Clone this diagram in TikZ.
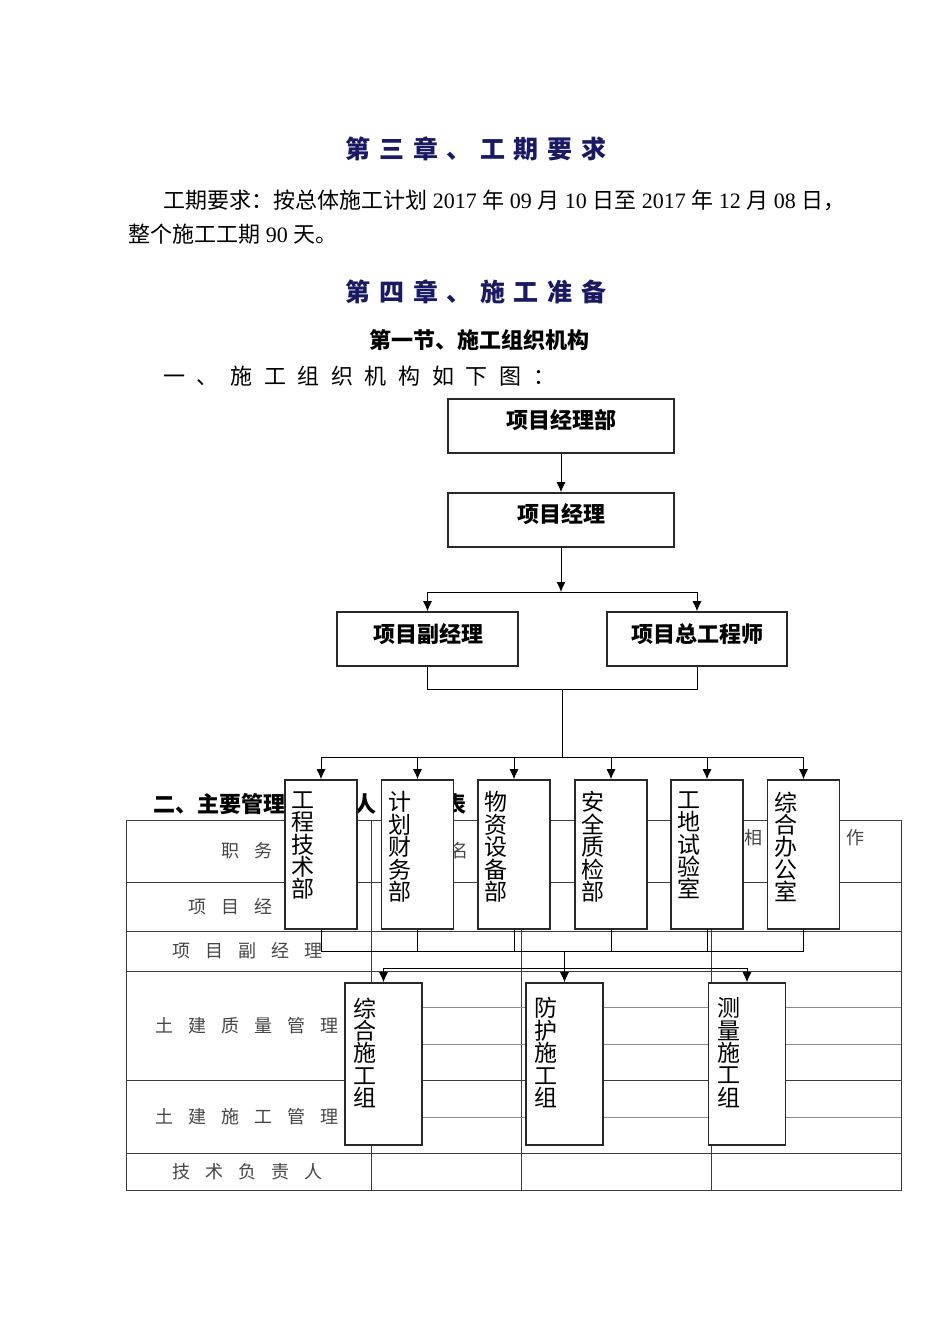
\documentclass[tikz,border=0pt]{standalone}
\usepackage{fontspec}
\setmainfont{Liberation Serif}
\newfontfamily\cjk{Noto Sans CJK SC}
\usetikzlibrary{arrows.meta}

\definecolor{titleblue}{RGB}{25,25,100}
\definecolor{gridgray}{RGB}{60,60,60}
\definecolor{subgray}{RGB}{140,140,140}
\definecolor{cellgray}{RGB}{70,70,70}
\definecolor{boxgray}{RGB}{40,40,40}

\newcommand\zh[1]{{\cjk #1}}
\newcommand\tgap{\hspace{4.3pt}}
\newcommand\lgap{\hspace{5.8pt}}
\newcommand\cgap{\hspace{7.5pt}}

\tikzset{
  box/.style={draw=boxgray, line width=0.8pt, fill=white, inner sep=0pt},
  hbox/.style={box, minimum width=#1, minimum height=27pt},
  vbox/.style={box, minimum width=36pt, minimum height=74.5pt},
  gbox/.style={box, minimum width=38.5pt, minimum height=81pt},
  arr/.style={-{Latex[length=5pt,width=4.5pt]}, line width=0.5pt},
  boxtext/.style={font=\cjk\bfseries\fontsize{11pt}{13pt}\selectfont, inner sep=0pt},
  vtext/.style={font=\cjk\fontsize{11.5pt}{11.2pt}\selectfont, align=left, inner sep=0pt, anchor=north west},
  cell/.style={font=\cjk\fontsize{9pt}{11pt}\selectfont, text=cellgray, inner sep=0pt},
  grid/.style={draw=gridgray, line width=0.5pt},
  subgrid/.style={draw=subgray, line width=0.5pt}
}

\begin{document}
\begin{tikzpicture}[x=0.5pt, y=-0.5pt]
        \fill[white] (0,0) rectangle (950,1344);
        \useasboundingbox (0,0) rectangle (950,1344);

        % headings and text
        \node[font=\cjk\bfseries\fontsize{12.5pt}{14pt}\selectfont, text=titleblue] (ch3) at (476,149)
            {第\tgap 三\tgap 章\tgap 、\tgap 工\tgap 期\tgap 要\tgap 求};
        \node[anchor=west, font=\fontsize{11pt}{13pt}\selectfont, inner sep=0pt] (par1) at (163,200)
            {\zh{工期要求：按总体施工计划} 2017 \zh{年} 09 \zh{月} 10 \zh{日至} 2017 \zh{年} 12 \zh{月} 08 \zh{日，}};
        \node[anchor=west, font=\fontsize{11pt}{13pt}\selectfont, inner sep=0pt] (par2) at (128,234)
            {\zh{整个施工工期} 90 \zh{天。}};
        \node[font=\cjk\bfseries\fontsize{12.5pt}{14pt}\selectfont, text=titleblue] (ch4) at (476,292)
            {第\tgap 四\tgap 章\tgap 、\tgap 施\tgap 工\tgap 准\tgap 备};
        \node[font=\cjk\bfseries\fontsize{11pt}{13pt}\selectfont] (sec1) at (479,340) {第一节、施工组织机构};
        \node[anchor=west, font=\cjk\fontsize{11pt}{13pt}\selectfont, inner sep=0pt] (part1) at (163,376)
            {一\lgap 、\lgap 施\lgap 工\lgap 组\lgap 织\lgap 机\lgap 构\lgap 如\lgap 下\lgap 图\lgap ：};

        % table
        \node[anchor=west, font=\cjk\bfseries\fontsize{11pt}{13pt}\selectfont, inner sep=0pt] (part2) at (153,804) {二、主要管理};
        \node[font=\cjk\bfseries\fontsize{11pt}{13pt}\selectfont, inner sep=0pt] (part2b) at (365,804) {人};
        \node[font=\cjk\bfseries\fontsize{11pt}{13pt}\selectfont, inner sep=0pt] (part2c) at (455,804) {表};

        \draw[grid] (126,820) rectangle (901,1190);
        \draw[grid] (126,882) -- (901,882);
        \draw[grid] (126,931) -- (901,931);
        \draw[grid] (126,971) -- (901,971);
        \draw[grid] (126,1080) -- (901,1080);
        \draw[grid] (126,1153) -- (901,1153);
        \draw[grid] (371,820) -- (371,1190);
        \draw[grid] (521,820) -- (521,1190);
        \draw[grid] (711,820) -- (711,1190);
        \draw[subgrid] (371,1007) -- (901,1007);
        \draw[subgrid] (371,1044) -- (901,1044);
        \draw[subgrid] (371,1117) -- (901,1117);

        \node[cell] (post) at (247,851) {职\cgap 务};
        \node[cell] (name) at (459,851) {名};
        \node[cell] (rel1) at (753,838) {相};
        \node[cell] (rel2) at (855,838) {作};
        \node[cell, anchor=west] (row1) at (188,907) {项\cgap 目\cgap 经};
        \node[cell, anchor=west] (row2) at (172,951) {项\cgap 目\cgap 副\cgap 经\cgap 理};
        \node[cell, anchor=west] (row3) at (155,1026) {土\cgap 建\cgap 质\cgap 量\cgap 管\cgap 理};
        \node[cell, anchor=west] (row4) at (155,1117) {土\cgap 建\cgap 施\cgap 工\cgap 管\cgap 理};
        \node[cell, anchor=west] (row5) at (172,1172) {技\cgap 术\cgap 负\cgap 责\cgap 人};

        % organisation chart
        \node[hbox=113pt] (pmd) at (561,426) {};
        \node[boxtext] (pmdt) at (561,420) {项目经理部};
        \node[hbox=113pt] (pm) at (561,520) {};
        \node[boxtext] (pmt) at (561,514) {项目经理};
        \node[hbox=90.5pt] (dep) at (427.5,639) {};
        \node[boxtext] (dept) at (428,634) {项目副经理};
        \node[hbox=90pt] (chief) at (697,639) {};
        \node[boxtext] (chieft) at (697,634) {项目总工程师};

        \node[vbox] (d1) at (321,854.5) {};
        \node[vbox] (d2) at (417.5,854.5) {};
        \node[vbox] (d3) at (514,854.5) {};
        \node[vbox] (d4) at (611,854.5) {};
        \node[vbox] (d5) at (707,854.5) {};
        \node[vbox] (d6) at (803.5,854.5) {};
        \node[vtext] (d1t) at ([xshift=3.5pt,yshift=-6pt]d1.north west) {工\\程\\技\\术\\部};
        \node[vtext] (d2t) at ([xshift=3.5pt,yshift=-6pt]d2.north west) {计\\划\\财\\务\\部};
        \node[vtext] (d3t) at ([xshift=3.5pt,yshift=-6pt]d3.north west) {物\\资\\设\\备\\部};
        \node[vtext] (d4t) at ([xshift=3.5pt,yshift=-6pt]d4.north west) {安\\全\\质\\检\\部};
        \node[vtext] (d5t) at ([xshift=3.5pt,yshift=-6pt]d5.north west) {工\\地\\试\\验\\室};
        \node[vtext] (d6t) at ([xshift=3.5pt,yshift=-6pt]d6.north west) {综\\合\\办\\公\\室};

        \node[gbox] (g1) at (383.5,1064) {};
        \node[gbox] (g2) at (564.5,1064) {};
        \node[gbox] (g3) at (747,1064) {};
        \node[vtext] (g1t) at ([xshift=4.5pt,yshift=-7.5pt]g1.north west) {综\\合\\施\\工\\组};
        \node[vtext] (g2t) at ([xshift=4.5pt,yshift=-7.5pt]g2.north west) {防\\护\\施\\工\\组};
        \node[vtext] (g3t) at ([xshift=4.5pt,yshift=-7.5pt]g3.north west) {测\\量\\施\\工\\组};

        \coordinate (s1) at (563,592);
        \coordinate (s2) at (562,689);
        \coordinate (s3) at (562,757);
        \coordinate (s4) at (564,951);
        \coordinate (s5) at (564,968);

        \draw[arr] (pmd.south) -- (pm.north);
        \draw[arr] (pm.south) -- (pm.south |- s1);
        \draw (dep.north |- s1) -- (chief.north |- s1);
        \draw[arr] (dep.north |- s1) -- (dep.north);
        \draw[arr] (chief.north |- s1) -- (chief.north);

        \draw (dep.south) |- (s2) -| (chief.south);
        \draw (s2) -- (s3);
        \draw (d1.north |- s3) -- (d6.north |- s3);
        \draw[arr] (d1.north |- s3) -- (d1.north);
        \draw[arr] (d2.north |- s3) -- (d2.north);
        \draw[arr] (d3.north |- s3) -- (d3.north);
        \draw[arr] (d4.north |- s3) -- (d4.north);
        \draw[arr] (d5.north |- s3) -- (d5.north);
        \draw[arr] (d6.north |- s3) -- (d6.north);

        \draw (d1.south) -- (d1.south |- s4);
        \draw (d2.south) -- (d2.south |- s4);
        \draw (d3.south) -- (d3.south |- s4);
        \draw (d4.south) -- (d4.south |- s4);
        \draw (d5.south) -- (d5.south |- s4);
        \draw (d6.south) -- (d6.south |- s4);
        \draw (d1.south |- s4) -- (d6.south |- s4);

        \draw[arr] (g2.north |- s4) -- (g2.north);
        \draw (g1.north |- s5) -- (g3.north |- s5);
        \draw[arr] (g1.north |- s5) -- (g1.north);
        \draw[arr] (g3.north |- s5) -- (g3.north);
\end{tikzpicture}
\end{document}
